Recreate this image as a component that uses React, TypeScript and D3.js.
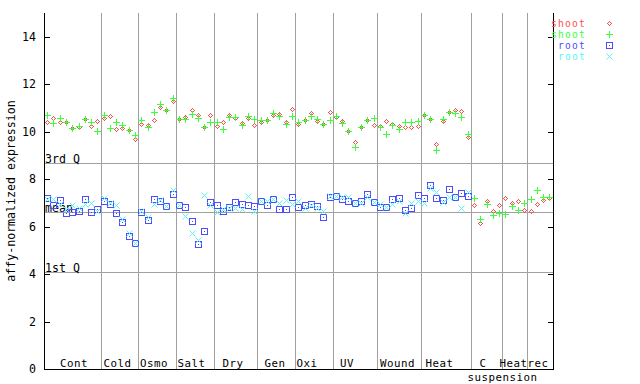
import React from "react";
import * as d3 from "d3";

const groupLabels = ["Cont", "Cold", "Osmo", "Salt", "Dry", "Gen", "Oxi", "UV", "Wound", "Heat", "C", "Heat", "rec"];
const groupCounts = [9, 6, 6, 6, 7, 6, 6, 7, 7, 8, 5, 4, 4];
const labelCenters = [74, 117.5, 154, 191.5, 233, 275, 307, 347, 397.5, 439.5, 483, 513.5, 538];

const shootRed = [
  10.40, 10.57, 10.43, 10.40, 10.16, 10.19, 10.53, 10.25, 10.46,
  10.57, 10.67, 10.11, 10.15, 10.08, 9.69,
  10.32, 10.29, 10.50, 11.06, 10.91, 11.29,
  10.53, 10.64, 10.92, 10.71, 10.19, 10.71,
  10.25, 10.40, 10.71, 10.57, 10.36, 10.57, 10.29,
  10.40, 10.49, 10.71, 10.74, 10.40, 10.95,
  10.32, 10.49, 10.78, 10.45, 10.32, 10.84,
  10.64, 10.45, 10.02, 9.56, 10.19, 10.49, 10.29,
  10.25, 10.45, 10.32, 10.25, 10.19, 10.19, 10.25,
  10.71, 10.53, 9.49, 10.45, 10.83, 10.92, 10.87, 9.77,
  6.90, 6.14, 7.07, 6.65, 6.90,
  7.20, 6.99, 7.07, 6.69,
  6.65, 6.94, 7.11, 7.20,
];

const shootGreen = [
  10.71, 10.36, 10.57, 10.40, 10.18, 10.25, 10.53, 10.40, 10.02,
  10.71, 10.15, 10.40, 10.29, 10.08, 9.87,
  10.49, 10.21, 10.83, 11.16, 10.92, 11.44,
  10.53, 10.53, 10.75, 10.57, 10.19, 10.40,
  10.40, 10.12, 10.64, 10.64, 10.29, 10.67, 10.53,
  10.49, 10.49, 10.78, 10.67, 10.32, 10.67,
  10.40, 10.49, 10.67, 10.53, 10.34, 10.49,
  10.67, 10.36, 10.02, 9.38, 10.19, 10.49, 10.57,
  10.19, 9.90, 10.29, 10.11, 10.40, 10.40, 10.45,
  10.71, 10.53, 9.22, 10.53, 10.83, 10.78, 10.64, 9.91,
  7.20, 6.31, 6.94, 6.48, 6.57,
  6.52, 6.86, 6.69, 6.99,
  7.16, 7.54, 7.24, 7.24,
];

const rootBlue = [
  7.20, 6.90, 7.13, 6.58, 6.64, 6.65, 7.17, 6.61, 6.76,
  7.10, 6.96, 6.56, 6.19, 5.61, 5.30,
  6.61, 6.28, 7.16, 7.10, 6.87, 7.37,
  6.90, 6.82, 6.25, 5.26, 5.83, 7.03,
  6.92, 6.66, 6.82, 7.03, 6.94, 6.90, 6.86,
  7.07, 6.90, 7.16, 6.73, 6.73, 7.24,
  6.82, 6.92, 6.94, 6.87, 6.40, 7.24,
  7.30, 7.17, 7.07, 6.99, 7.07, 7.37, 7.03,
  6.82, 6.82, 7.16, 7.20, 6.69, 6.78, 7.32,
  7.20, 7.75, 7.20, 7.11, 7.58, 7.24, 7.41, 7.28,
];

const rootCyan = [
  7.15, 7.15, 6.96, 6.75, 6.92, 6.79, 6.96, 7.00, 6.68,
  7.20, 7.00, 6.92, 6.31, 5.72, 5.33,
  6.66, 6.40, 6.96, 7.13, 6.87, 7.55,
  6.90, 6.45, 5.72, 5.44, 7.34, 6.92,
  6.61, 6.73, 6.78, 6.78, 6.73, 7.30, 6.66,
  7.07, 7.07, 7.16, 6.99, 7.11, 6.94,
  7.07, 6.78, 6.90, 6.78, 6.65, 7.30,
  7.30, 7.27, 7.24, 6.99, 6.99, 7.24, 7.03,
  6.94, 6.82, 6.94, 7.10, 6.56, 6.99, 7.07,
  6.99, 7.62, 7.45, 7.03, 7.24, 7.24, 6.78, 7.45,
];

const yTicks = [0, 2, 4, 6, 8, 10, 12, 14];
const refLines = [
  { label: "3rd Q", value: 8.68 },
  { label: "mean", value: 6.62 },
  { label: "1st Q", value: 4.08 },
];
const legendItems = [
  { label: "shoot", color: "#ff4d4d", marker: "diamond" },
  { label: "shoot", color: "#3cff3c", marker: "plus" },
  { label: "root", color: "#4d4dff", marker: "square" },
  { label: "root", color: "#5cf5f5", marker: "cross" },
];

const FONT = "'DejaVu Sans Mono', monospace";
const W = 640, H = 384;
const left = 44, right = 552.5, top = 13.3, bottom = 369;

function Marker({ type, cx, cy, color }: { type: string; cx: number; cy: number; color: string }) {
  const px = Math.round(cx), py = Math.round(cy);
  if (type === "diamond") {
    const rects: JSX.Element[] = [];
    for (let dy = -3; dy <= 3; dy++) {
      const w = 3 - Math.abs(dy);
      for (let dx = -w; dx <= w; dx++) {
        if ((dx + dy + 100) % 2 === 0 && !(dx === 0 && dy === 0))
          rects.push(<rect key={dx + "_" + dy} x={px + dx} y={py + dy} width={1} height={1} fill={color} />);
      }
    }
    return <g shapeRendering="crispEdges">{rects}</g>;
  }
  if (type === "plus") {
    return (
      <g stroke={color} strokeWidth={1} shapeRendering="crispEdges">
        <line x1={px - 3} x2={px + 4} y1={py + 0.5} y2={py + 0.5} />
        <line x1={px + 0.5} x2={px + 0.5} y1={py - 3} y2={py + 4} />
      </g>
    );
  }
  if (type === "square") {
    return (
      <g shapeRendering="crispEdges">
        <rect x={px - 2.5} y={py - 2.5} width={6} height={6} fill="none" stroke={color} strokeWidth={1} />
        <rect x={px} y={py} width={1} height={1} fill={color} />
      </g>
    );
  }
  return (
    <g stroke={color} strokeWidth={1}>
      <line x1={px - 2.5} y1={py - 2.5} x2={px + 3.5} y2={py + 3.5} />
      <line x1={px + 3.5} y1={py - 2.5} x2={px - 2.5} y2={py + 3.5} />
    </g>
  );
}

export default function App() {
  const total = d3.sum(groupCounts);
  const x = d3.scaleLinear().domain([0, total]).range([left, right]);
  const y = d3.scaleLinear().domain([0, 15]).range([bottom, top]);
  const bounds: number[] = Array.from(d3.cumsum(groupCounts));

  const series = [
    { data: shootRed, ...legendItems[0] },
    { data: shootGreen, ...legendItems[1] },
    { data: rootBlue, ...legendItems[2] },
    { data: rootCyan, ...legendItems[3] },
  ];

  return (
    <svg width={W} height={H} style={{ position: "absolute", left: 0, top: 0, background: "#fff" }} fontFamily={FONT}>
      <rect x={0} y={0} width={W} height={H} fill="#fff" />
      {/* group separators */}
      <g stroke="#a0a0a0" strokeWidth={1} shapeRendering="crispEdges">
        {bounds.slice(0, -1).map((b, i) => (
          <line key={i} x1={Math.round(x(b)) + 0.5} x2={Math.round(x(b)) + 0.5} y1={top} y2={bottom} />
        ))}
        {refLines.map((r) => (
          <line key={r.label} x1={left} x2={right} y1={Math.round(y(r.value)) + 0.5} y2={Math.round(y(r.value)) + 0.5} />
        ))}
      </g>
      {refLines.map((r) => (
        <text key={r.label} x={45} y={Math.round(y(r.value)) - 0.5} fontSize={11.6} fill="#000">{r.label}</text>
      ))}
      {/* points */}
      {series.map((s, si) => (
        <g key={si}>
          {s.data.map((v, i) => (
            <Marker key={i} type={s.marker} cx={x(i + 0.5)} cy={y(v)} color={s.color} />
          ))}
        </g>
      ))}
      {/* axes */}
      <g stroke="#000" strokeWidth={1} shapeRendering="crispEdges">
        <line x1={left + 0.5} x2={left + 0.5} y1={top} y2={bottom + 0.5} />
        <line x1={right + 0.5} x2={right + 0.5} y1={top} y2={bottom + 0.5} />
        <line x1={left} x2={right + 1} y1={bottom + 0.5} y2={bottom + 0.5} />
        {yTicks.map((t) => (
          <g key={t}>
            <line x1={left} x2={left + 6} y1={Math.round(y(t)) + 0.5} y2={Math.round(y(t)) + 0.5} />
            <line x1={right - 5} x2={right + 1} y1={Math.round(y(t)) + 0.5} y2={Math.round(y(t)) + 0.5} />
          </g>
        ))}
      </g>
      {yTicks.map((t) => (
        <text key={t} x={36} y={y(t) + 4} textAnchor="end" fontSize={11.6} fill="#000">{t}</text>
      ))}
      <text transform={`translate(15,191) rotate(-90)`} textAnchor="middle" fontSize={11.6} fill="#000">
        affy-normalized expression
      </text>
      {/* group labels */}
      {groupLabels.map((g, i) => (
        <text key={i} x={labelCenters[i]} y={366.5} textAnchor="middle" fontSize={10.8} letterSpacing={0.5} fill="#000">{g}</text>
      ))}
      <text x={502.5} y={380.5} textAnchor="middle" fontSize={10.8} letterSpacing={0.5} fill="#000">suspension</text>
      {/* legend */}
      {legendItems.map((l, i) => (
        <g key={i}>
          <text x={586} y={27 + i * 11} textAnchor="end" fontSize={9.6} letterSpacing={1.2} fill={l.color}>{l.label}</text>
          <Marker type={l.marker} cx={609} cy={23 + i * 11} color={l.color} />
        </g>
      ))}
    </svg>
  );
}
